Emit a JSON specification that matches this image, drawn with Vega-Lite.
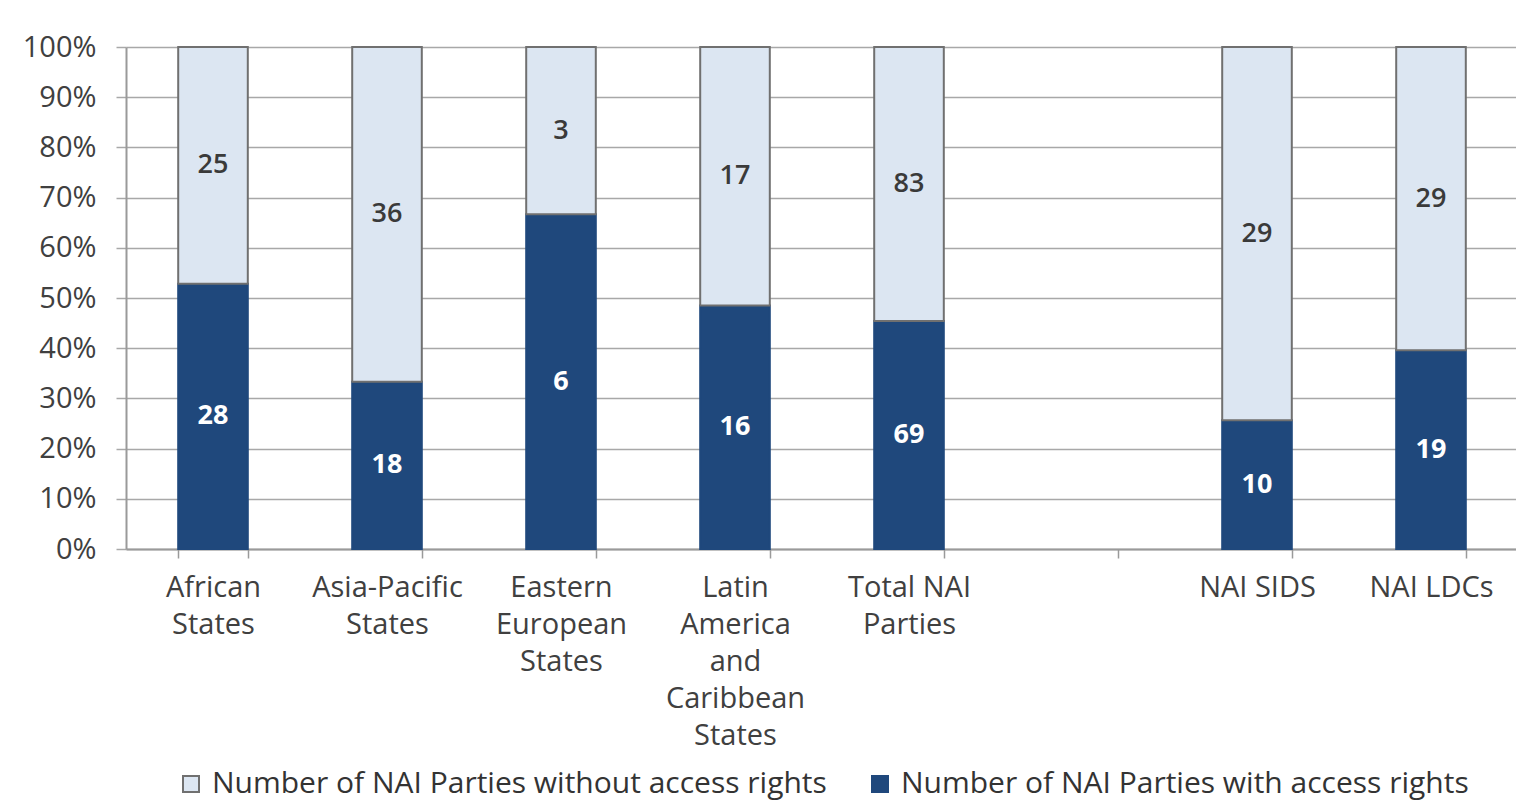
{
  "$schema": "https://vega.github.io/schema/vega-lite/v6.json",
  "width": 1392,
  "height": 502,
  "autosize": "none",
  "padding": {"left": 126, "top": 47, "right": 0, "bottom": 254},
  "background": "white",
  "config": {"view": {"stroke": null}, "font": "Open Sans"},
  "data": {
    "values": [
      {"category": "African States", "status": "Number of NAI Parties with access rights", "count": 28},
      {"category": "African States", "status": "Number of NAI Parties without access rights", "count": 25},
      {"category": "Asia-Pacific States", "status": "Number of NAI Parties with access rights", "count": 18},
      {"category": "Asia-Pacific States", "status": "Number of NAI Parties without access rights", "count": 36},
      {"category": "Eastern European States", "status": "Number of NAI Parties with access rights", "count": 6},
      {"category": "Eastern European States", "status": "Number of NAI Parties without access rights", "count": 3},
      {"category": "Latin America and Caribbean States", "status": "Number of NAI Parties with access rights", "count": 16},
      {"category": "Latin America and Caribbean States", "status": "Number of NAI Parties without access rights", "count": 17},
      {"category": "Total NAI Parties", "status": "Number of NAI Parties with access rights", "count": 69},
      {"category": "Total NAI Parties", "status": "Number of NAI Parties without access rights", "count": 83},
      {"category": "NAI SIDS", "status": "Number of NAI Parties with access rights", "count": 10},
      {"category": "NAI SIDS", "status": "Number of NAI Parties without access rights", "count": 29},
      {"category": "NAI LDCs", "status": "Number of NAI Parties with access rights", "count": 19},
      {"category": "NAI LDCs", "status": "Number of NAI Parties without access rights", "count": 29}
    ]
  },
  "transform": [
    {"stack": "count", "groupby": ["category"], "sort": [{"field": "status", "order": "ascending"}], "offset": "normalize", "as": ["y0", "y1"]},
    {"calculate": "(datum.y0 + datum.y1) / 2", "as": "ymid"}
  ],
  "encoding": {
    "x": {
      "field": "category",
      "type": "nominal",
      "scale": {
        "domain": ["African States", "Asia-Pacific States", "Eastern European States", "Latin America and Caribbean States", "Total NAI Parties", " ", "NAI SIDS", "NAI LDCs"],
        "paddingInner": 0.6,
        "paddingOuter": 0.3
      },
      "axis": {
        "title": null,
        "labelAngle": 0,
        "labelFont": "Open Sans",
        "labelFontSize": 29,
        "labelColor": "#404040",
        "labelLineHeight": 37,
        "labelBaseline": "top",
        "labelPadding": 15,
        "labelLimit": 0,
        "domainColor": "#9a9a9a",
        "domainWidth": 2,
        "tickBand": "extent",
        "tickSize": 9,
        "tickColor": "#9a9a9a",
        "tickWidth": 1.5,
        "labelExpr": "datum.label == 'African States' ? ['African','States'] : datum.label == 'Asia-Pacific States' ? ['Asia-Pacific','States'] : datum.label == 'Eastern European States' ? ['Eastern','European','States'] : datum.label == 'Latin America and Caribbean States' ? ['Latin','America','and','Caribbean','States'] : datum.label == 'Total NAI Parties' ? ['Total NAI','Parties'] : datum.label"
      }
    }
  },
  "layer": [
    {
      "mark": {"type": "bar", "strokeWidth": 2},
      "encoding": {
        "y": {
          "field": "y0",
          "type": "quantitative",
          "scale": {"domain": [0, 1]},
          "axis": {
            "title": null,
            "values": [0, 0.1, 0.2, 0.3, 0.4, 0.5, 0.6, 0.7, 0.8, 0.9, 1],
            "format": ".0%",
            "labelFont": "Open Sans",
            "labelFontSize": 29,
            "labelColor": "#404040",
            "labelPadding": 20,
            "grid": true,
            "gridColor": "#a8a8a8",
            "gridWidth": 1.5,
            "domainColor": "#9a9a9a",
            "domainWidth": 2,
            "tickSize": 10,
            "tickColor": "#a8a8a8",
            "tickWidth": 1.5
          }
        },
        "y2": {"field": "y1"},
        "fill": {
          "field": "status",
          "type": "nominal",
          "scale": {
            "domain": ["Number of NAI Parties without access rights", "Number of NAI Parties with access rights"],
            "range": ["#dce6f2", "#1f487c"]
          },
          "legend": {
            "title": null,
            "orient": "none",
            "legendX": 50,
            "legendY": 722,
            "direction": "horizontal",
            "symbolType": "square",
            "symbolSize": 256,
            "symbolStrokeWidth": 2,
            "labelFont": "Open Sans",
            "labelFontSize": 30,
            "labelColor": "#333333",
            "labelOffset": 6,
            "columnPadding": 38,
            "padding": 0,
            "labelLimit": 0
          }
        },
        "stroke": {
          "field": "status",
          "type": "nominal",
          "scale": {
            "domain": ["Number of NAI Parties without access rights", "Number of NAI Parties with access rights"],
            "range": ["#707070", "#1f487c"]
          },
          "legend": {
            "title": null,
            "orient": "none",
            "legendX": 50,
            "legendY": 722,
            "direction": "horizontal",
            "symbolType": "square",
            "symbolSize": 256,
            "symbolStrokeWidth": 2,
            "labelFont": "Open Sans",
            "labelFontSize": 30,
            "labelColor": "#333333",
            "labelOffset": 6,
            "columnPadding": 38,
            "padding": 0,
            "labelLimit": 0
          }
        }
      }
    },
    {
      "transform": [{"filter": "datum.status == 'Number of NAI Parties without access rights'"}],
      "mark": {"type": "text", "fontSize": 27, "fontWeight": 600, "color": "#3a3a3a"},
      "encoding": {
        "y": {"field": "ymid", "type": "quantitative"},
        "text": {"field": "count", "type": "quantitative"}
      }
    },
    {
      "transform": [{"filter": "datum.status == 'Number of NAI Parties with access rights'"}],
      "mark": {"type": "text", "fontSize": 27, "fontWeight": "bold", "color": "white"},
      "encoding": {
        "y": {"field": "ymid", "type": "quantitative"},
        "text": {"field": "count", "type": "quantitative"}
      }
    }
  ]
}
